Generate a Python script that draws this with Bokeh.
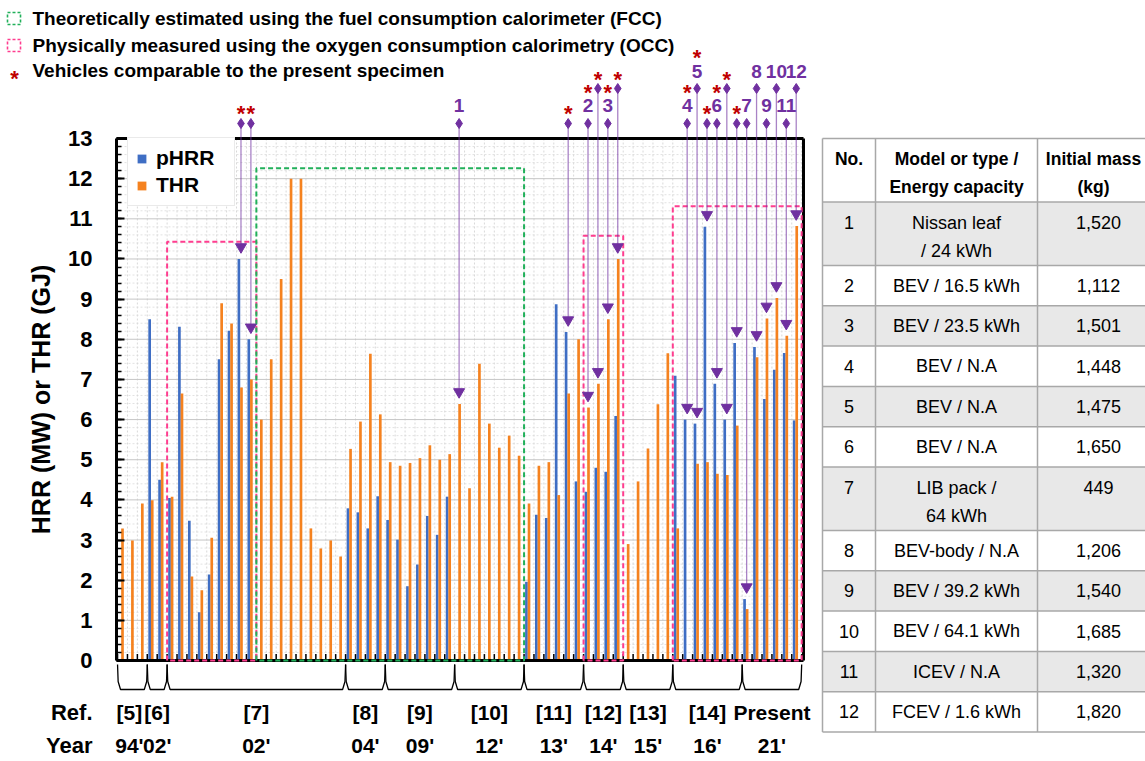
from bokeh.plotting import figure
from bokeh.models import (ColumnDataSource, Range1d, FixedTicker, LinearAxis, Label,
                          Legend, LegendItem, PolyAnnotation)
from bokeh.layouts import row
from bokeh.embed import file_html
from bokeh.resources import INLINE
from bokeh.core.properties import value

# ---------------- data ----------------
phrr = [None, None, None, 8.50, 4.50, 4.05, 8.31, 3.48, 1.20, 2.14, 7.50, 8.21, 10.0, 8.0,
        None, None, None, None, None, None, None, None, None,
        3.79, 3.69, 3.29, 4.09,
        3.50, 3.01, 1.85, 2.39, 3.60, 3.13, 4.08,
        None, None, None, None, None, None, None,
        1.96, 3.63, 3.55, 8.87, 8.18, 4.46,
        4.20, 4.80, 4.70, 6.09,
        None, None, None, None, None,
        7.09, 6.00, 5.90, 10.8, 6.89, 6.00, 7.91,
        1.53, 7.81, 6.51, 7.24, 7.66, 5.98]
thr = [3.29, 2.99, 3.91, 3.99, 4.94, 4.08, 6.65, 2.09, 1.75, 3.06, 8.90, 8.39, 6.80, 7.00,
       6.00, 7.50, 9.50, 12.0, 12.0, 3.29, 2.79, 2.99, 2.59,
       5.27, 5.95, 7.64, 6.13,
       4.94, 4.85, 4.92, 5.04, 5.36, 5.00, 5.14,
       6.39, 4.29, 7.39, 5.90, 5.30, 5.60, 5.10,
       3.91, 4.85, 4.94, 4.12, 6.65, 8.00,
       6.30, 6.89, 8.50, 10.0,
       2.90, 4.46, 5.28, 6.38, 7.65,
       3.29, None, 4.90, 4.94, 4.65, 4.62, 5.85,
       1.28, 7.55, 8.52, 9.03, 8.09, 10.82]

y_ticks = list(range(14))

group_refs = ["[5]", "[6]", "[7]", "[8]", "[9]", "[10]", "[11]", "[12]", "[13]", "[14]", "Present"]
group_years = ["94'", "02'", "02'", "04'", "09'", "12'", "13'", "14'", "15'", "16'", "21'"]
group_first = [0, 3, 5, 23, 27, 34, 41, 47, 51, 56, 63]
group_last = [2, 4, 22, 26, 33, 40, 46, 50, 55, 62, 68]

box_first = [5, 14, 47, 56]
box_last = [13, 40, 50, 68]
box_top = [10.43, 12.26, 10.58, 11.31]
box_method = ["OCC", "FCC", "OCC", "OCC"]

arrow_slot = [12, 13, 34, 45, 47, 48, 49, 50, 57, 58, 59, 60, 61, 62, 63, 64, 65, 66, 67, 68]
arrow_tier = [0, 0, 0, 0, 0, 1, 0, 1, 0, 1, 0, 0, 1, 0, 0, 1, 0, 1, 0, 1]
arrow_label = ["*", "*", "1", "*", "2", "*", "3", "*", "4", "5", "*", "6", "*", "*", "7",
               "8", "9", "10", "11", "12"]
arrow_star_above = [False, False, False, False, True, False, True, False, True, True,
                    False, True, False, False, False, False, False, False, False, False]

legend_texts = ["Theoretically estimated using the fuel consumption calorimeter (FCC)",
                "Physically measured using the oxygen consumption calorimetry (OCC)",
                "Vehicles comparable to the present specimen"]

tbl_header = [["No."], ["Model or type /", "Energy capacity"], ["Initial mass", "(kg)"]]
tbl_no = ["1", "2", "3", "4", "5", "6", "7", "8", "9", "10", "11", "12"]
tbl_model = ["Nissan leaf\n/ 24 kWh", "BEV / 16.5 kWh", "BEV / 23.5 kWh", "BEV / N.A",
             "BEV / N.A", "BEV / N.A", "LIB pack /\n64 kWh", "BEV-body / N.A",
             "BEV / 39.2 kWh", "BEV / 64.1 kWh", "ICEV / N.A", "FCEV / 1.6 kWh"]
tbl_mass = ["1,520", "1,112", "1,501", "1,448", "1,475", "1,650", "449", "1,206",
            "1,540", "1,685", "1,320", "1,820"]

# ---------------- style ----------------
FONT = "Liberation Sans"
PURPLE = "#7030A0"
RED = "#C00000"
BLUE = "#3F6EC4"
ORANGE = "#F5821F"
GREEN = "#21B05A"
PINK = "#FF3D8F"

PPU = 40.153   # pixels per y unit
SPX = 9.915    # pixels per test slot


def ypix(pix):
    return (660.0 - pix) / PPU


def xpix(pix):
    return (pix - 122.0) / SPX


p = figure(width=815, height=761,
           x_range=Range1d(xpix(0), xpix(815)), y_range=Range1d(ypix(761), ypix(0)),
           x_axis_location=None, y_axis_location=None,
           toolbar_location=None, output_backend="svg", min_border=0)
p.outline_line_color = None
p.grid.grid_line_color = None

x_lo = xpix(116)
x_hi = xpix(803)
nslot = len(thr)

yt = FixedTicker(ticks=y_ticks, minor_ticks=[round(k * 0.2, 1) for k in range(66)])
yax = LinearAxis(fixed_location=x_lo, ticker=yt, bounds=(0, 13),
                 axis_line_width=3, axis_line_color="black",
                 major_tick_in=8, major_tick_out=0, major_tick_line_width=2,
                 minor_tick_in=5, minor_tick_out=0, minor_tick_line_width=1.5,
                 major_label_text_font=FONT, major_label_text_font_size="22px",
                 major_label_text_font_style="bold", major_label_text_color="black",
                 major_label_standoff=24,
                 axis_label="HRR (MW) or THR (GJ)", axis_label_text_font=FONT,
                 axis_label_text_font_size="25px", axis_label_text_font_style="bold",
                 axis_label_text_color="black", axis_label_standoff=10)
p.add_layout(yax, "left")

# horizontal grid (minor dotted, major solid) inside the chart box
minor_y = [v for v in yt.minor_ticks if abs(v - round(v)) > 1e-6]
p.segment(x0=[x_lo] * len(minor_y), y0=minor_y, x1=[x_hi] * len(minor_y), y1=minor_y,
          line_color="#e2e2e2", line_width=1, line_dash="2 2")
vx = [i + 0.5 for i in range(-1, nslot)]
p.segment(x0=vx, y0=[0] * len(vx), x1=vx, y1=[13] * len(vx),
          line_color="#d9d9d9", line_width=1, line_dash="2 2")
p.segment(x0=[x_lo] * len(y_ticks), y0=y_ticks, x1=[x_hi] * len(y_ticks), y1=y_ticks,
          line_color="#c6c6c6", line_width=1)

# bars
bsrc = ColumnDataSource(dict(x=[i - 0.26 for i, v in enumerate(phrr) if v is not None],
                             top=[v for v in phrr if v is not None]))
osrc = ColumnDataSource(dict(x=[i for i, v in enumerate(thr) if v is not None],
                             top=[v for v in thr if v is not None]))
rb = p.vbar(x="x", top="top", width=0.27, source=bsrc, fill_color=BLUE, line_color=None)
ro = p.vbar(x="x", top="top", width=0.27, source=osrc, fill_color=ORANGE, line_color=None)

# chart box (left side is the axis line) and slot ticks
p.segment(x0=[x_lo, x_lo, x_hi], y0=[0, 13, 0], x1=[x_hi, x_hi, x_hi], y1=[0, 13, 13],
          line_color="black", line_width=3)
p.segment(x0=vx, y0=[0] * len(vx), x1=vx, y1=[0.16] * len(vx), line_color="black", line_width=1.5)

# dashed method boxes
bxs, bys, bcol = [], [], []
for f, l, tp, m in zip(box_first, box_last, box_top, box_method):
    xl, xr = f - 0.5, l + 0.5
    bxs.append([xl, xl, xr, xr, xl])
    bys.append([0, tp, tp, 0, 0])
    bcol.append(GREEN if m == "FCC" else PINK)
p.multi_line(xs=bxs, ys=bys, line_color=bcol, line_width=2, line_dash="5 3")

# arrows to comparable vehicles
tier_diamond = [ypix(123), ypix(88)]
tier_label = [ypix(105), ypix(71)]
tier_star = [ypix(86), ypix(51)]
ax_ = [s - 0.05 for s in arrow_slot]
tops = [max(v for v in (phrr[s], thr[s]) if v is not None) for s in arrow_slot]
tri_y = [t + 0.3 for t in tops]
dia_y = [tier_diamond[t] for t in arrow_tier]
p.segment(x0=ax_, y0=dia_y, x1=ax_, y1=tri_y, line_color=PURPLE, line_width=1.3, line_alpha=0.6)
p.scatter(x=ax_, y=dia_y, marker="diamond", size=10, fill_color=PURPLE, line_color=PURPLE)
p.scatter(x=ax_, y=tri_y, marker="inverted_triangle", size=11, fill_color=PURPLE, line_color=PURPLE)

num_x = [x for x, lab in zip(ax_, arrow_label) if lab != "*"]
num_y = [tier_label[t] for t, lab in zip(arrow_tier, arrow_label) if lab != "*"]
num_t = [lab for lab in arrow_label if lab != "*"]
p.text(x=num_x, y=num_y, text=num_t, text_font=value(FONT), text_font_size=value("19px"),
       text_font_style="bold", text_color=PURPLE, text_align="center", text_baseline="middle")

STAR_DROP = 6.0 / PPU
st_x = [x for x, lab in zip(ax_, arrow_label) if lab == "*"]
st_y = [tier_label[t] - STAR_DROP - 2.0 / PPU for t, lab in zip(arrow_tier, arrow_label) if lab == "*"]
st_x += [x for x, a in zip(ax_, arrow_star_above) if a]
st_y += [tier_star[t] - STAR_DROP for t, a in zip(arrow_tier, arrow_star_above) if a]
p.text(x=st_x, y=st_y, text=["*"] * len(st_x), text_font=value(FONT), text_font_size=value("22px"),
       text_font_style="bold", text_color=RED, text_align="center", text_baseline="middle")

# braces and group labels
brx, bry = [], []
yt_, ym_, yb_ = ypix(664), ypix(681), ypix(689)
for f, l in zip(group_first, group_last):
    xl, xr = f - 0.5, l + 0.5
    brx.append([xl, xl + 0.06, xl + 0.3, xr - 0.3, xr - 0.06, xr])
    bry.append([yt_, ym_, yb_, yb_, ym_, yt_])
p.multi_line(xs=brx, ys=bry, line_color="black", line_width=1.3)

gc = [(f + l) / 2 for f, l in zip(group_first, group_last)]
gdx = [-3 if k == 0 else 0 for k in range(len(gc))]
gsrc = ColumnDataSource(dict(x=gc, yr=[ypix(712)] * len(gc), yy=[ypix(745)] * len(gc),
                             ref=group_refs, year=group_years, dx=gdx))
p.text(x="x", y="yr", text="ref", x_offset="dx", source=gsrc, text_font=value(FONT),
       text_font_size=value("21px"), text_font_style="bold", text_color="black",
       text_align="center", text_baseline="middle")
p.text(x="x", y="yy", text="year", x_offset="dx", source=gsrc, text_font=value(FONT),
       text_font_size=value("21px"), text_font_style="bold", text_color="black",
       text_align="center", text_baseline="middle")

for txt, yy in (("Ref.", 712), ("Year", 745)):
    p.add_layout(Label(x=xpix(92), y=ypix(yy), text=txt, text_font=FONT, text_font_size="22px",
                       text_font_style="bold", text_color="black", text_align="right",
                       text_baseline="middle"))

# top-left key
for txt, yy in zip(legend_texts, (18, 45, 70)):
    p.add_layout(Label(x=xpix(32), y=ypix(yy), text=txt, text_font=FONT, text_font_size="19px",
                       text_font_style="bold", text_color="black", text_align="left",
                       text_baseline="middle"))
for col, yy in ((GREEN, 18), (PINK, 45)):
    p.add_layout(PolyAnnotation(xs=[xpix(7), xpix(20), xpix(20), xpix(7)],
                                ys=[ypix(yy - 6), ypix(yy - 6), ypix(yy + 6), ypix(yy + 6)],
                                fill_alpha=0, line_color=col, line_alpha=1.0, line_width=1.6,
                                line_dash="3 2"))
p.add_layout(Label(x=xpix(14), y=ypix(72) - STAR_DROP, text="*", text_font=FONT, text_font_size="22px",
                   text_font_style="bold", text_color=RED, text_align="center", text_baseline="middle"))

# in-plot legend
leg = Legend(items=[LegendItem(label="pHRR", renderers=[rb]), LegendItem(label="THR", renderers=[ro])],
             location=(127, 555), orientation="vertical",
             label_text_font=FONT, label_text_font_size="21px", label_text_font_style="bold",
             label_text_color="black",
             glyph_width=11, glyph_height=11, label_standoff=9, padding=8, spacing=3,
             label_height=22, label_width=70, margin=0,
             border_line_color="#d5d5d5", border_line_width=1.5, background_fill_alpha=1)
p.add_layout(leg)

# ---------------- table ----------------
t = figure(width=330, height=761, x_range=Range1d(0, 330), y_range=Range1d(761, 0),
           x_axis_location=None, y_axis_location=None, toolbar_location=None,
           output_backend="svg", min_border=0)
t.outline_line_color = None
t.grid.grid_line_color = None

col_edges = [7, 60, 222, 335]
col_mid = [33.5, 141, 283]
head_mid = [33.5, 141, 278]
rows = [tbl_header] + [[[n], m.split("\n"), [w]] for n, m, w in zip(tbl_no, tbl_model, tbl_mass)]
y0 = 138.0
r_top, r_bot = [], []
for r in rows:
    nl = max(len(c) for c in r)
    h = 63.5 if nl > 1 else 40.3
    r_top.append(y0)
    r_bot.append(y0 + h)
    y0 += h

fills = ["white"] + ["#e8e8e8" if k % 2 == 0 else "white" for k in range(len(tbl_no))]
t.quad(left=[col_edges[0]] * len(rows), right=[col_edges[-1]] * len(rows), top=r_top, bottom=r_bot,
       fill_color=fills, line_color=None)
hy = r_top + [r_bot[-1]]
t.segment(x0=[col_edges[0]] * len(hy), y0=hy, x1=[col_edges[-1]] * len(hy), y1=hy,
          line_color="#a8a8a8", line_width=1.5)
vxs = col_edges[:3]
t.segment(x0=vxs, y0=[r_top[0]] * 3, x1=vxs, y1=[r_bot[-1]] * 3, line_color="#a8a8a8", line_width=1.5)

for ri, r in enumerate(rows):
    nl = max(len(c) for c in r)
    mids = head_mid if ri == 0 else col_mid
    tx, ty, tt = [], [], []
    for ci, cell in enumerate(r):
        for li, line in enumerate(cell):
            if nl > 1:
                yy = r_top[ri] + 20.5 + 28 * li
            else:
                yy = (r_top[ri] + r_bot[ri]) / 2
            tx.append(mids[ci])
            ty.append(yy)
            tt.append(line)
    t.text(x=tx, y=ty, text=tt, text_font=value(FONT),
           text_font_size=value("17.5px" if ri == 0 else "18px"),
           text_font_style="bold" if ri == 0 else "normal", text_color="black",
           text_align="center", text_baseline="middle")

layout = row(p, t)
open("out.html", "w").write(file_html(layout, INLINE))
